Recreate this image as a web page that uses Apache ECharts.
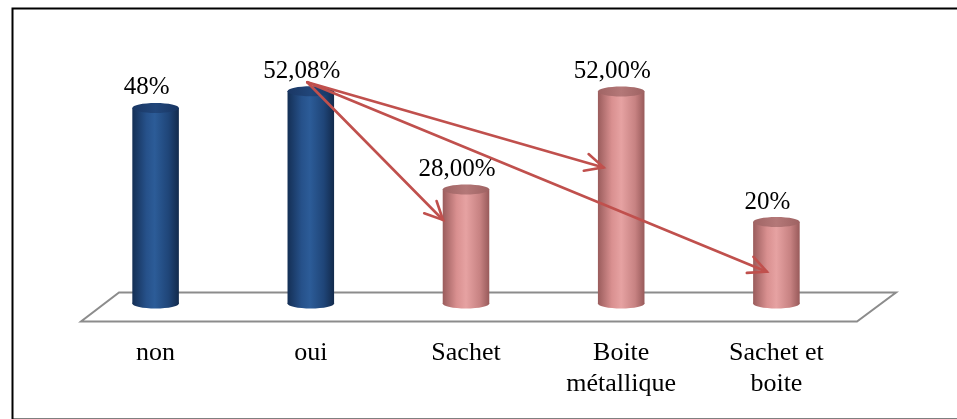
<!DOCTYPE html>
<html>
<head>
<meta charset="utf-8">
<script src="https://cdn.jsdelivr.net/npm/echarts@6/dist/echarts.min.js"></script>
<style>
  html, body { margin: 0; padding: 0; background: #ffffff; }
  #chart { width: 957px; height: 419px; }
</style>
</head>
<body>
<div id="chart"></div>
<script>
// Categories along the floor and their percentages
const categories = ['non', 'oui', 'Sachet', 'Boite\nmétallique', 'Sachet et\nboite'];
const values = [48, 52.08, 28, 52, 20];
const valueLabels = ['48%', '52,08%', '28,00%', '52,00%', '20%'];
// 0 = answer to the question, 1 = packaging type
const groups = [0, 0, 1, 1, 1];
// Arrows from the "oui" column to each packaging column:
// [fromCategory, fromValue, toCategory, toValue] in axis units
const arrowLinks = [
  [0.977, 54.3, 1.852, 20.5],
  [0.977, 54.3, 2.886, 33.4],
  [0.977, 54.3, 3.938, 7.8]
];

const FONT = '"Liberation Serif", "Times New Roman", serif';

const palettes = [
  {
    body: [
      { offset: 0, color: '#142f55' },
      { offset: 0.3, color: '#26518a' },
      { offset: 0.48, color: '#2c5c98' },
      { offset: 0.78, color: '#1f4578' },
      { offset: 1, color: '#122a4c' }
    ],
    top: [
      { offset: 0, color: '#1a3764' },
      { offset: 0.5, color: '#21467a' },
      { offset: 1, color: '#183562' }
    ]
  },
  {
    body: [
      { offset: 0, color: '#9a5c5c' },
      { offset: 0.3, color: '#d99090' },
      { offset: 0.5, color: '#e6a2a2' },
      { offset: 0.8, color: '#c78282' },
      { offset: 1, color: '#985a5a' }
    ],
    top: [
      { offset: 0, color: '#a06464' },
      { offset: 0.5, color: '#b47878' },
      { offset: 1, color: '#9e6262' }
    ]
  }
];

const cylinderData = values.map((v, i) => [i, v]);

function renderFloor(params, api) {
  const left = api.coord([-0.5, 0]);
  const right = api.coord([4.5, 0]);
  const pts = [
    [left[0] + 41, left[1] - 11],
    [right[0] + 42, right[1] - 11],
    [right[0] + 3, right[1] + 18],
    [left[0] + 3, left[1] + 18]
  ];
  return {
    type: 'polygon',
    shape: { points: pts },
    style: { fill: '#ffffff', stroke: '#8c8c8c', lineWidth: 2 }
  };
}

function renderCylinder(params, api) {
  const idx = params.dataIndex;
  const i = api.value(0);
  const v = api.value(1);
  const top = api.coord([i, v]);
  const base = api.coord([i, 0]);
  const halfW = api.size([1, 0])[0] * 0.15;
  const ry = 5;
  const pal = palettes[groups[idx]];
  const bodyFill = new echarts.graphic.LinearGradient(0, 0, 1, 0, pal.body);
  const bodyFill2 = new echarts.graphic.LinearGradient(0, 0, 1, 0, pal.body);
  const topFill = new echarts.graphic.LinearGradient(0, 0, 1, 0, pal.top);
  return {
    type: 'group',
    children: [
      {
        type: 'ellipse',
        shape: { cx: base[0], cy: base[1], rx: halfW, ry: ry },
        style: { fill: bodyFill }
      },
      {
        type: 'rect',
        shape: { x: top[0] - halfW, y: top[1], width: halfW * 2, height: base[1] - top[1] },
        style: { fill: bodyFill2 }
      },
      {
        type: 'ellipse',
        shape: { cx: top[0], cy: top[1], rx: halfW, ry: ry },
        style: { fill: topFill }
      },
      {
        type: 'text',
        style: {
          text: valueLabels[idx],
          x: top[0] - 9,
          y: top[1] - 20,
          align: 'center',
          verticalAlign: 'middle',
          font: '25px ' + FONT,
          fill: '#000000'
        }
      }
    ]
  };
}

function renderArrow(params, api) {
  const p0 = api.coord([api.value(0), api.value(1)]);
  const p1 = api.coord([api.value(2), api.value(3)]);
  const ang = Math.atan2(p1[1] - p0[1], p1[0] - p0[0]);
  const len = 20;
  const spread = 0.45;
  const w1 = [p1[0] - len * Math.cos(ang - spread), p1[1] - len * Math.sin(ang - spread)];
  const w2 = [p1[0] - len * Math.cos(ang + spread), p1[1] - len * Math.sin(ang + spread)];
  const lineStyle = { stroke: '#c0504d', lineWidth: 2.6, fill: null, lineCap: 'round', lineJoin: 'miter' };
  return {
    type: 'group',
    children: [
      { type: 'line', shape: { x1: p0[0], y1: p0[1], x2: p1[0], y2: p1[1] }, style: lineStyle },
      { type: 'polyline', shape: { points: [w1, p1, w2] }, style: lineStyle }
    ]
  };
}

const chart = echarts.init(document.getElementById('chart'), null, { renderer: 'canvas' });

chart.setOption({
  animation: false,
  backgroundColor: '#ffffff',
  grid: { left: 78, width: 776, top: 59, bottom: 115.5 },
  xAxis: [
    {
      type: 'category',
      data: categories,
      axisLine: { show: false },
      axisTick: { show: false },
      axisLabel: {
        color: '#000000',
        fontFamily: FONT,
        fontSize: 26,
        lineHeight: 31,
        margin: 34,
        interval: 0
      }
    },
    {
      type: 'value',
      min: -0.5,
      max: 4.5,
      show: false
    }
  ],
  yAxis: {
    type: 'value',
    min: 0,
    max: 60,
    show: false,
    splitLine: { show: false }
  },
  graphic: [
    {
      type: 'rect',
      left: 10,
      top: 6,
      shape: { width: 960, height: 411 },
      style: { fill: null, stroke: '#000000', lineWidth: 2 },
      silent: true
    }
  ],
  series: [
    {
      type: 'custom',
      xAxisIndex: 1,
      data: [[0]],
      renderItem: renderFloor,
      z: 1,
      silent: true
    },
    {
      type: 'custom',
      xAxisIndex: 1,
      data: cylinderData,
      renderItem: renderCylinder,
      z: 2,
      silent: true
    },
    {
      type: 'custom',
      xAxisIndex: 1,
      data: arrowLinks,
      renderItem: renderArrow,
      z: 3,
      silent: true
    }
  ]
});
</script>
</body>
</html>
